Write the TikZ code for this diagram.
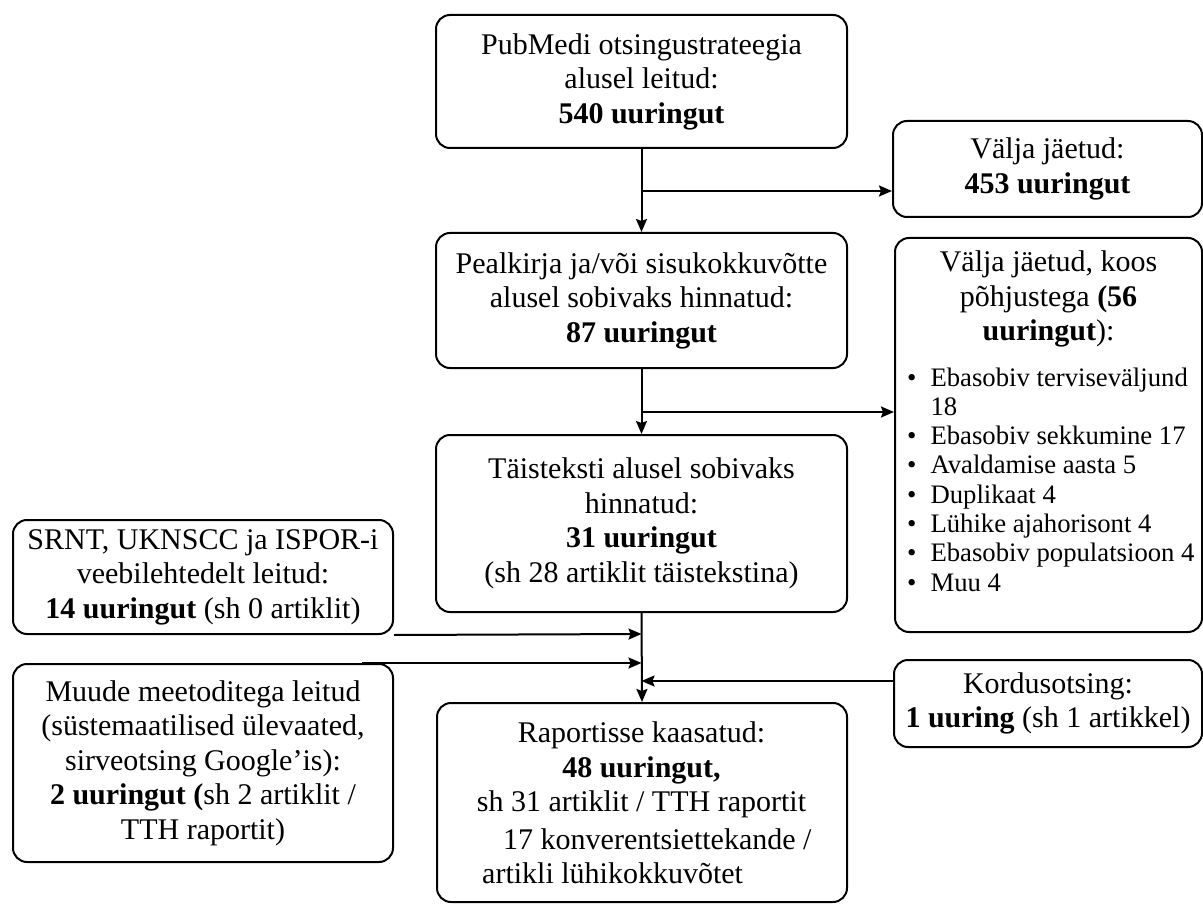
\documentclass[tikz,border=0pt]{standalone}
\usepackage{fontspec}
\setmainfont{Liberation Serif}
\usetikzlibrary{arrows.meta}
\begin{document}
\begin{tikzpicture}[x=1pt,y=-1pt,
  box/.style={draw, line width=2pt, rounded corners=14pt, inner sep=0pt, align=center,
    font=\fontsize{30}{34.5}\selectfont},
  txt/.style={inner sep=0pt, align=center, font=\fontsize{30}{34.5}\selectfont},
  listtxt/.style={inner sep=0pt, font=\fontsize{26.7}{29.3}\selectfont},
  conn/.style={line width=2pt, -{Stealth[length=13pt,width=11pt,inset=2pt]}}]
\useasboundingbox (0,0) rectangle (1203,904);

\node[box, minimum width=411pt, minimum height=133pt] (top) at (641.5,81.5)
  {PubMedi otsingustrateegia\\ alusel leitud:\\ \textbf{540 uuringut}};
\node[box, minimum width=309pt, minimum height=96pt] (exc1) at (1047.5,169)
  {Välja jäetud:\\ \textbf{453 uuringut}};
\node[box, minimum width=411pt, minimum height=135pt] (box2) at (641.5,300.5)
  {Pealkirja ja/või sisukokkuvõtte\\ alusel sobivaks hinnatud:\\ \textbf{87 uuringut}};
\node[box, minimum width=307pt, minimum height=394pt] (exc2) at (1048.5,435) {};
\node[txt] (exc2h) at (1048.5,299)
  {Välja jäetud, koos\\ põhjustega \textbf{(56}\\ \textbf{uuringut}):};
\node[listtxt, anchor=base west] (exc2l) at (907,386) {%
  \begin{tabular}[t]{@{}l@{\hspace{14pt}}l@{}}
  • & Ebasobiv terviseväljund\\
    & 18\\
  • & Ebasobiv sekkumine 17\\
  • & Avaldamise aasta 5\\
  • & Duplikaat 4\\
  • & Lühike ajahorisont 4\\
  • & Ebasobiv populatsioon 4\\
  • & Muu 4
  \end{tabular}};
\node[box, minimum width=411pt, minimum height=177pt] (box3) at (641.5,523.5)
  {Täisteksti alusel sobivaks\\ hinnatud:\\ \textbf{31 uuringut}\\ (sh 28 artiklit täistekstina)};
\node[box, minimum width=380pt, minimum height=114pt] (srnt) at (203,577)
  {SRNT, UKNSCC ja ISPOR-i\\ veebilehtedelt leitud:\\ \textbf{14 uuringut} (sh 0 artiklit)};
\node[box, minimum width=380pt, minimum height=198pt] (muude) at (203,763)
  {Muude meetoditega leitud\\ (süstemaatilised ülevaated,\\ sirveotsing Google’is):\\ \textbf{2 uuringut (}sh 2 artiklit /\\ TTH raportit)};
\node[box, minimum width=308pt, minimum height=87pt] (kord) at (1048,703.5)
  {Kordusotsing:\\ \textbf{1 uuring} (sh 1 artikkel)};
\node[box, minimum width=410pt, minimum height=199pt] (final) at (642,802.5) {};
\node[txt] (finalt) at (641.5,770)
  {Raportisse kaasatud:\\ \textbf{48 uuringut,}\\ sh 31 artiklit / TTH raportit};
\node[txt, anchor=west] (finalt4) at (503,839) {17 konverentsiettekande /};
\node[txt, anchor=west] (finalt5) at (482,873) {artikli lühikokkuvõtet};

\coordinate (b1) at (641.5,191);
\coordinate (b2) at (641.5,412);
\coordinate (m1) at (641.5,634);
\coordinate (m2) at (641.5,663);
\coordinate (m3) at (641.5,681);
\coordinate (ms) at (362,663);

\draw[conn] (top.south) -- (box2.north);
\draw[conn] (b1) -- (b1 -| exc1.west);
\draw[conn] (box2.south) -- (box3.north);
\draw[conn] (b2) -- (b2 -| exc2.west);
\draw[conn] (box3.south) -- (final.north);
\draw[conn] (srnt.south east) -- (m1);
\draw[conn] (ms) -- (m2);
\draw[conn] (m3 -| kord.west) -- (m3);
\end{tikzpicture}
\end{document}
